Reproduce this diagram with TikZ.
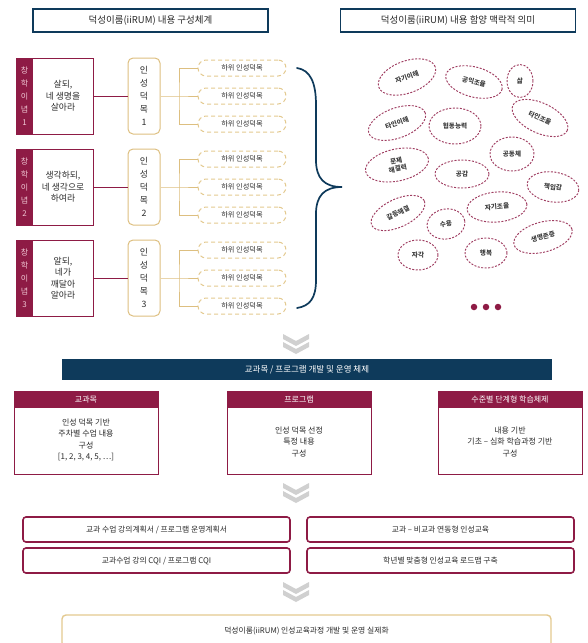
\documentclass[tikz,border=0pt]{standalone}
\usepackage{fontspec}
\setmainfont{Noto Sans CJK KR}
\usetikzlibrary{shapes.geometric}
\definecolor{navy}{HTML}{0E3A5B}
\definecolor{maroon}{HTML}{8E1B45}
\definecolor{gold}{HTML}{DDBF80}
\definecolor{goldl}{HTML}{E3C98F}
\definecolor{chev}{HTML}{D0D0D0}
\definecolor{txt}{HTML}{2A2A2A}
\definecolor{pinkl}{HTML}{F0C6D3}
\begin{document}
\begin{tikzpicture}[x=1pt,y=-1pt,
  hdr/.style={draw=navy, line width=1.8pt, fill=white, minimum width=235, minimum height=23, inner sep=0, font=\fontsize{9.5}{11}\selectfont, text=txt},
  outer/.style={draw=maroon, line width=0.9pt, minimum width=77, minimum height=76, inner sep=0},
  strip/.style={fill=maroon, minimum width=16, minimum height=75, inner sep=0, align=center, text=pinkl, font=\fontsize{8}{13}\selectfont},
  btext/.style={align=center, font=\fontsize{8.8}{11.5}\selectfont, text=txt},
  pill/.style={draw=gold, line width=1pt, rounded corners=5, minimum width=32, minimum height=76, inner sep=0, align=center, font=\fontsize{8.8}{13}\selectfont, text=txt},
  sub/.style={draw=goldl, line width=1pt, dash pattern=on 4pt off 3pt, rounded corners=8, minimum width=88, minimum height=16, inner sep=0, font=\fontsize{7.2}{8}\selectfont, text=txt},
  goldc/.style={draw=gold, line width=1pt},
  ell/.style={ellipse, draw=maroon!85, line width=0.95pt, dash pattern=on 2pt off 1.5pt, inner sep=0, align=center, font=\fontsize{6.6}{7.8}\selectfont\bfseries, text=txt!90},
  dotn/.style={circle, fill=maroon, minimum size=6.5, inner sep=0},
  bar/.style={fill=navy, text=white, minimum width=490, minimum height=21, inner sep=0, font=\fontsize{8.5}{10}\selectfont},
  cbox/.style={draw=maroon, line width=1pt, minimum width=144, minimum height=83, inner sep=0},
  chead/.style={fill=maroon, text=white, minimum width=144, minimum height=17, inner sep=0, anchor=north, font=\fontsize{8}{9}\selectfont},
  ctext/.style={align=center, font=\fontsize{8}{11.5}\selectfont, text=txt},
  rbox/.style={draw=maroon, line width=1.6pt, rounded corners=3, minimum width=267, minimum height=25, inner sep=0, font=\fontsize{7.8}{9}\selectfont, text=txt},
  fbox/.style={draw=goldl, line width=1.4pt, rounded corners=4, minimum width=489, minimum height=32, inner sep=0, font=\fontsize{7.8}{9}\selectfont, text=txt},
  chevs/.style={fill=chev, draw=none}
]
\useasboundingbox (0,0) rectangle (587,643);

% headers
\node[hdr] (hl) at (150.5,20.5) {덕성이룸(iiRUM) 내용 구성체계};
\node[hdr] (hr) at (458,20.5) {덕성이룸(iiRUM) 내용 함양 맥락적 의미};

% ---- block 1
\node[outer] (o1) at (54.5,96) {};
\node[strip] (s1) at (24.5,96) {창\\학\\이\\념\\1};
\node[btext] (t1) at (63,96) {살되,\\네 생명을\\살아라};
\node[pill] (p1) at (144,96) {인\\성\\덕\\목\\1};
\coordinate (k1) at (179,96);
\node[sub] (d11) at (242,68) {하위 인성덕목};
\node[sub] (d12) at (242,96) {하위 인성덕목};
\node[sub] (d13) at (242,124) {하위 인성덕목};
\draw[maroon, line width=0.9pt] (o1.east) -- (p1.west);
\draw[goldc] (p1.east) -- (k1) -- (d12.west);
\draw[goldc] (d11.west) -| (k1) |- (d13.west);

% ---- block 2
\node[outer] (o2) at (54.5,187) {};
\node[strip] (s2) at (24.5,187) {창\\학\\이\\념\\2};
\node[btext] (t2) at (63,187) {생각하되,\\네 생각으로\\하여라};
\node[pill] (p2) at (144,187) {인\\성\\덕\\목\\2};
\coordinate (k2) at (179,187);
\node[sub] (d21) at (242,159) {하위 인성덕목};
\node[sub] (d22) at (242,187) {하위 인성덕목};
\node[sub] (d23) at (242,215) {하위 인성덕목};
\draw[maroon, line width=0.9pt] (o2.east) -- (p2.west);
\draw[goldc] (p2.east) -- (k2) -- (d22.west);
\draw[goldc] (d21.west) -| (k2) |- (d23.west);

% ---- block 3
\node[outer] (o3) at (54.5,278) {};
\node[strip] (s3) at (24.5,278) {창\\학\\이\\념\\3};
\node[btext] (t3) at (63,278) {알되,\\네가\\깨달아\\알아라};
\node[pill] (p3) at (144,278) {인\\성\\덕\\목\\3};
\coordinate (k3) at (179,278);
\node[sub] (d31) at (242,250) {하위 인성덕목};
\node[sub] (d32) at (242,278) {하위 인성덕목};
\node[sub] (d33) at (242,306) {하위 인성덕목};
\draw[maroon, line width=0.9pt] (o3.east) -- (p3.west);
\draw[goldc] (p3.east) -- (k3) -- (d32.west);
\draw[goldc] (d31.west) -| (k3) |- (d33.west);

% brace
\draw[navy, line width=1.7pt, line cap=round]
  (297,68) .. controls (310,70) and (316,82) .. (316,105) -- (316,160)
  .. controls (316,178) and (324,187) .. (342,187)
  .. controls (324,187) and (316,196) .. (316,214) -- (316,280)
  .. controls (316,298) and (310,306) .. (297,308);

% ellipses
\node[ell, minimum width=60, minimum height=32, rotate=20] (e1) at (407,77) {자기이해};
\node[ell, minimum width=58, minimum height=30, rotate=-15] (e2) at (474,82) {공익조율};
\node[ell, minimum width=26, minimum height=33] (e3) at (520,81) {삶};
\node[ell, minimum width=60, minimum height=30, rotate=20] (e4) at (397,123) {타인이해};
\node[ell, minimum width=52, minimum height=36] (e5) at (455,126) {협동능력};
\node[ell, minimum width=60, minimum height=30, rotate=-25] (e6) at (540,118) {타인조율};
\node[ell, minimum width=44, minimum height=34] (e7) at (512,154) {공동체};
\node[ell, minimum width=64, minimum height=32, rotate=12] (e8) at (397,165) {문제\\해결력};
\node[ell, minimum width=54, minimum height=28] (e9) at (462,174) {공감};
\node[ell, minimum width=52, minimum height=30, rotate=-8] (e10) at (553,187) {책임감};
\node[ell, minimum width=60, minimum height=30, rotate=5] (e11) at (497,207) {자기조율};
\node[ell, minimum width=58, minimum height=28, rotate=25] (e12) at (398,213) {갈등해결};
\node[ell, minimum width=38, minimum height=30, rotate=10] (e13) at (446,224) {수용};
\node[ell, minimum width=60, minimum height=30, rotate=15] (e14) at (543,237) {생명존중};
\node[ell, minimum width=40, minimum height=30] (e15) at (418,255) {자각};
\node[ell, minimum width=42, minimum height=30] (e16) at (486,253) {행복};
\node[dotn] (dt1) at (474,307) {};
\node[dotn] (dt2) at (486,307) {};
\node[dotn] (dt3) at (498,307) {};

% chevron 1
\fill[chevs] (283,334) -- (296,341) -- (309,334) -- (309,339) -- (296,346) -- (283,339) -- cycle;
\fill[chevs] (283,342) -- (296,349) -- (309,342) -- (309,347) -- (296,354) -- (283,347) -- cycle;

% bar
\node[bar] (bar) at (307,369.5) {교과목 / 프로그램 개발 및 운영 체제};

% three boxes
\node[cbox] (c1) at (86,432.5) {};
\node[chead] (ch1) at (c1.north) {교과목};
\node[ctext] (ct1) at (86,440) {인성 덕목 기반\\주차별 수업 내용\\구성\\{[1, 2, 3, 4, 5, …]}};
\node[cbox] (c2) at (299,432.5) {};
\node[chead] (ch2) at (c2.north) {프로그램};
\node[ctext] (ct2) at (299,442) {인성 덕목 선정\\특정 내용\\구성};
\node[cbox] (c3) at (510,432.5) {};
\node[chead] (ch3) at (c3.north) {수준별 단계형 학습체제};
\node[ctext] (ct3) at (510,442) {내용 기반\\기초 – 심화 학습과정 기반\\구성};

% chevron 2
\fill[chevs] (283,483) -- (296,490) -- (309,483) -- (309,488) -- (296,495) -- (283,488) -- cycle;
\fill[chevs] (283,491) -- (296,498) -- (309,491) -- (309,496) -- (296,503) -- (283,496) -- cycle;

% rows
\node[rbox] (r11) at (156.5,529.5) {교과 수업 강의계획서 / 프로그램 운영계획서};
\node[rbox] (r12) at (440.5,529.5) {교과 – 비교과 연동형 인성교육};
\node[rbox] (r21) at (156.5,560.5) {교과수업 강의 CQI / 프로그램 CQI};
\node[rbox] (r22) at (440.5,560.5) {학년별 맞춤형 인성교육 로드맵 구축};

% chevron 3
\fill[chevs] (283,582) -- (296,589) -- (309,582) -- (309,587) -- (296,594) -- (283,587) -- cycle;
\fill[chevs] (283,590) -- (296,597) -- (309,590) -- (309,595) -- (296,602) -- (283,595) -- cycle;

% final
\node[fbox] (fin) at (306.5,631) {덕성이룸(iiRUM) 인성교육과정 개발 및 운영 실제화};
\end{tikzpicture}
\end{document}
